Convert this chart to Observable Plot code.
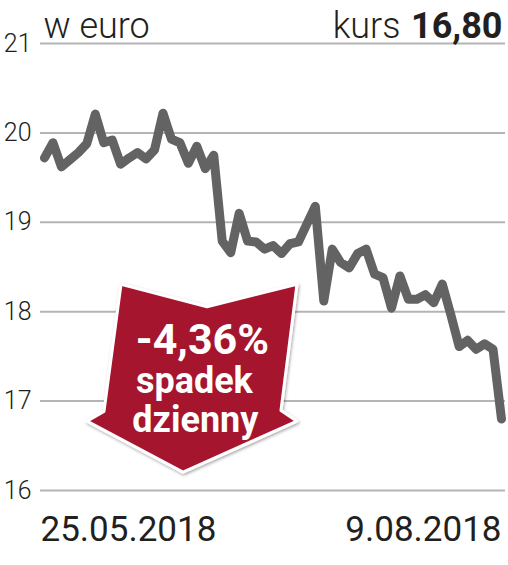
<!DOCTYPE html>
<html>
<head>
<meta charset="utf-8">
<script src="https://cdn.jsdelivr.net/npm/d3@7"></script>
<script src="https://cdn.jsdelivr.net/npm/@observablehq/plot@0.6"></script>
<style>
  html, body { margin: 0; padding: 0; background: #fff; }
  svg { display: block; }
</style>
</head>
<body>
<div id="chart"></div>
<script>
// Daily closing price (EUR), 25.05.2018 – 9.08.2018
const prices = [
  19.72, 19.89, 19.62, 19.70, 19.78, 19.88, 20.21, 19.89, 19.92, 19.65,
  19.72, 19.78, 19.71, 19.81, 20.22, 19.93, 19.89, 19.66, 19.85, 19.60,
  19.75, 18.79, 18.66, 19.10, 18.79, 18.78, 18.70, 18.74, 18.65, 18.76,
  18.78, 18.98, 19.18, 18.12, 18.70, 18.55, 18.49, 18.65, 18.70, 18.42,
  18.38, 18.04, 18.40, 18.14, 18.14, 18.19, 18.10, 18.31, 17.97, 17.61,
  17.68, 17.58, 17.64, 17.58, 16.80
];
const yTicks = [16, 17, 18, 19, 20, 21];
const xLabels = ["25.05.2018", "9.08.2018"];
const unitLabel = "w euro";
const priceLabel = "kurs";
const priceValue = "16,80";
const changeValue = "-4,36%";
const changeWords = ["spadek", "dzienny"];

const data = prices.map((v, i) => ({i, v}));
const n = prices.length;

// Arrow callout outline, expressed in chart units (index, euro)
const arrowShape = [
  [9.1, 18.30], [19.26, 18.05], [29.89, 18.30], [28.0, 16.89],
  [29.89, 16.77], [16.42, 16.20], [5.08, 16.77], [7.09, 16.88]
];
const arrowCenterX = 18.3;

const font = "Roboto, 'Liberation Sans', sans-serif";
const ink = "#231f20";

const plot = Plot.plot({
  width: 508,
  height: 565,
  marginTop: 43,
  marginBottom: 75,
  marginLeft: 44,
  marginRight: 7,
  style: {fontFamily: font, fontSize: "25px", fontWeight: 300, color: ink, background: "#fff"},
  x: {domain: [0, n - 1], axis: null},
  y: {domain: [16, 21], ticks: yTicks, tickSize: 0, tickPadding: 13, tickFormat: d => String(d), label: null},
  marks: [
    Plot.ruleY(yTicks, {stroke: "#b4b4b4", strokeWidth: 2, insetLeft: -4, insetRight: -4}),
    Plot.line(data, {x: "i", y: "v", stroke: "#636363", strokeWidth: 9, strokeLinejoin: "round", strokeLinecap: "round"}),
    Plot.text([changeValue], {x: () => arrowCenterX, y: () => 17.53, text: d => d, fill: "#fff", fontSize: 43, fontWeight: 700, lineAnchor: "bottom", textAnchor: "middle", dx: 3}),
    Plot.text([changeWords[0]], {x: () => arrowCenterX, y: () => 17.095, text: d => d, fill: "#fff", fontSize: 36, fontWeight: 700, lineAnchor: "bottom", textAnchor: "middle", dx: -5}),
    Plot.text([changeWords[1]], {x: () => arrowCenterX, y: () => 16.655, text: d => d, fill: "#fff", fontSize: 36, fontWeight: 700, lineAnchor: "bottom", textAnchor: "middle", dx: -4}),
    Plot.text([unitLabel], {frameAnchor: "top-left", text: d => d, textAnchor: "start", lineAnchor: "bottom", dx: -1, dy: -6, fontSize: 36, fontWeight: 300, fill: ink}),
    Plot.text([priceValue], {frameAnchor: "top-right", text: d => d, textAnchor: "end", lineAnchor: "bottom", dx: 1, dy: -6, fontSize: 36, fontWeight: 700, fill: ink}),
    Plot.text([priceLabel], {frameAnchor: "top-right", text: d => d, textAnchor: "end", lineAnchor: "bottom", dx: -101, dy: -6, fontSize: 36, fontWeight: 300, fill: ink}),
    Plot.text([xLabels[0]], {frameAnchor: "bottom-left", text: d => d, textAnchor: "start", lineAnchor: "bottom", dx: -4, dy: 50, fontSize: 35, fontWeight: 400, fill: ink}),
    Plot.text([xLabels[1]], {frameAnchor: "bottom-right", text: d => d, textAnchor: "end", lineAnchor: "bottom", dx: 0, dy: 50, fontSize: 35, fontWeight: 400, fill: ink})
  ]
});

document.getElementById("chart").appendChild(plot);

// Draw the arrow callout through the plot's own scales, beneath its text
const sx = plot.scale("x"), sy = plot.scale("y");
const svg = d3.select(plot);
const defs = svg.append("defs");
const f = defs.append("filter").attr("id", "arrowShadow").attr("x", "-20%").attr("y", "-20%").attr("width", "140%").attr("height", "140%");
f.append("feDropShadow").attr("dx", 1).attr("dy", 1.5).attr("stdDeviation", 1.6).attr("flood-color", "#000").attr("flood-opacity", 0.35);

const pts = arrowShape.map(([a, b]) => [sx.apply(a), sy.apply(b)]);
const path = document.createElementNS("http://www.w3.org/2000/svg", "path");
path.setAttribute("d", "M" + pts.map(p => p.join(",")).join("L") + "Z");
path.setAttribute("fill", "#a5122f");
path.setAttribute("stroke", "#fff");
path.setAttribute("stroke-width", 3);
path.setAttribute("stroke-linejoin", "round");
path.setAttribute("filter", "url(#arrowShadow)");
const firstArrowText = Array.from(plot.querySelectorAll("text")).find(t => t.textContent === changeValue);
const g = firstArrowText.closest("g");
g.parentNode.insertBefore(path, g);
</script>
</body>
</html>
